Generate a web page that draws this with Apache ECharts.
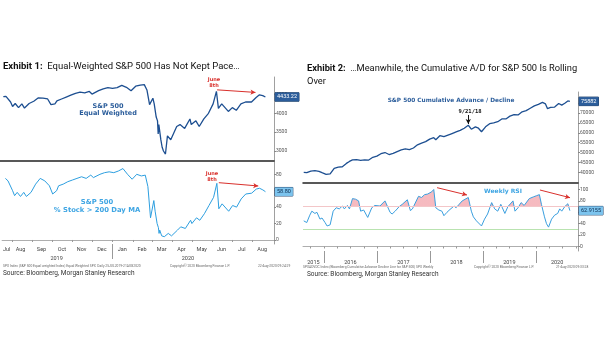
<!DOCTYPE html>
<html><head><meta charset="utf-8">
<script src="https://cdn.jsdelivr.net/npm/echarts@6/dist/echarts.min.js"></script>
<style>html,body{margin:0;padding:0;background:#fff}#c{width:605px;height:341px}</style>
</head><body><div id="c"></div>
<script>
// ---------- Exhibit 1 data (daily, sampled) ----------
const ewDates = ['2019-07-22','2019-07-26','2019-08-02','2019-08-05','2019-08-09','2019-08-14','2019-08-19','2019-08-23','2019-08-30','2019-09-06','2019-09-13','2019-09-20','2019-09-27','2019-10-02','2019-10-08','2019-10-11','2019-10-18','2019-10-25','2019-11-01','2019-11-08','2019-11-15','2019-11-22','2019-11-29','2019-12-03','2019-12-13','2019-12-20','2019-12-27','2020-01-03','2020-01-10','2020-01-17','2020-01-24','2020-01-31','2020-02-07','2020-02-14','2020-02-20','2020-02-24','2020-02-28','2020-03-04','2020-03-06','2020-03-09','2020-03-11','2020-03-12','2020-03-13','2020-03-16','2020-03-18','2020-03-20','2020-03-23','2020-03-26','2020-03-31','2020-04-03','2020-04-09','2020-04-14','2020-04-21','2020-04-29','2020-05-01','2020-05-08','2020-05-13','2020-05-20','2020-05-27','2020-06-03','2020-06-08','2020-06-11','2020-06-16','2020-06-26','2020-07-02','2020-07-08','2020-07-15','2020-07-22','2020-07-31','2020-08-07','2020-08-12','2020-08-17','2020-08-21'];
const ewIndex = [4440,4450,4300,4180,4260,4150,4250,4140,4260,4320,4410,4400,4380,4230,4250,4330,4380,4430,4480,4530,4560,4540,4580,4510,4600,4650,4680,4660,4680,4740,4690,4600,4720,4750,4760,4620,4230,4400,4250,3900,3800,3450,3700,3300,3100,3000,2920,3400,3300,3250,3650,3700,3600,3850,3700,3800,3650,3850,4000,4250,4580,4130,4250,4050,4150,4080,4250,4300,4300,4420,4490,4470,4433.22];
const pctAbove200 = [75,72,60,54,58,53,58,53,58,68,75,72,66,56,60,66,68,71,73,75,77,75,79,76,80,82,83,82,84,87,80,74,80,78,79,65,27,48,35,20,15,8,12,5,3,4,2,8,5,6,12,16,14,24,20,27,24,32,42,52,69,38,44,35,42,40,50,56,57,62,63,61,58.80];
const ewTicks = [3000,3500,4000,4500];
const pctTicks = [0,20,40,60,80];
const monthTickDates = ['2019-08-01','2019-09-01','2019-10-01','2019-11-01','2019-12-01','2020-01-01','2020-02-01','2020-03-01','2020-04-01','2020-05-01','2020-06-01','2020-07-01','2020-08-01'];
const monthLabelDates = ['2019-07-24','2019-08-14','2019-09-15','2019-10-16','2019-11-15','2019-12-16','2020-01-16','2020-02-15','2020-03-16','2020-04-15','2020-05-16','2020-06-15','2020-07-16','2020-08-16'];
const yearLabelDates1 = ['2019-10-08','2020-04-25'];

// ---------- Exhibit 2 data (weekly, sampled) ----------
const adDates = ['2015-08-14','2015-09-04','2015-10-02','2015-10-30','2015-11-27','2015-12-18','2016-01-15','2016-02-12','2016-03-11','2016-04-08','2016-05-06','2016-06-03','2016-06-24','2016-07-15','2016-08-12','2016-09-09','2016-10-07','2016-11-04','2016-12-02','2016-12-30','2017-01-27','2017-02-24','2017-03-24','2017-04-21','2017-05-19','2017-06-16','2017-07-14','2017-08-11','2017-09-08','2017-10-06','2017-11-03','2017-12-01','2017-12-29','2018-01-26','2018-02-09','2018-03-09','2018-04-06','2018-05-04','2018-06-01','2018-06-29','2018-07-27','2018-08-24','2018-09-21','2018-10-12','2018-11-09','2018-11-30','2018-12-21','2019-01-18','2019-02-15','2019-03-15','2019-04-12','2019-05-10','2019-06-07','2019-07-05','2019-08-02','2019-08-30','2019-09-27','2019-10-25','2019-11-22','2019-12-20','2020-01-17','2020-02-14','2020-03-06','2020-03-20','2020-04-10','2020-05-08','2020-06-05','2020-06-26','2020-07-17','2020-08-07','2020-08-21'];
const adValues = [40000,39800,40600,40800,40500,39800,39000,39200,42000,42600,42800,44500,45500,46300,46400,46000,46300,46200,47600,48200,49400,50000,49000,49600,50500,51300,51800,51500,52300,53900,54800,55500,56800,57500,56500,58500,58000,58800,59600,60400,61200,62300,63800,61800,63000,62300,60500,63000,64600,65000,65600,67000,67000,68400,69200,69000,70600,71200,72400,73600,74400,75400,74600,72200,72800,73000,74800,74000,74900,76100,75882];
const rsiDates = ['2015-08-14','2015-09-04','2015-09-25','2015-10-09','2015-10-30','2015-11-13','2015-12-04','2015-12-18','2016-01-08','2016-01-22','2016-02-12','2016-03-04','2016-03-25','2016-04-15','2016-05-06','2016-05-20','2016-06-10','2016-06-24','2016-07-15','2016-08-05','2016-08-26','2016-09-09','2016-09-30','2016-10-28','2016-11-25','2016-12-16','2017-01-20','2017-02-24','2017-03-03','2017-03-31','2017-04-14','2017-05-05','2017-06-02','2017-06-23','2017-07-28','2017-08-18','2017-09-01','2017-10-13','2017-11-03','2017-11-24','2017-12-15','2018-01-12','2018-01-26','2018-02-09','2018-03-02','2018-03-23','2018-04-06','2018-04-27','2018-05-18','2018-06-15','2018-06-29','2018-07-20','2018-08-10','2018-09-21','2018-10-12','2018-10-26','2018-11-16','2018-12-21','2019-01-11','2019-02-01','2019-03-01','2019-03-22','2019-04-12','2019-05-03','2019-05-31','2019-06-21','2019-07-26','2019-08-09','2019-08-30','2019-09-20','2019-10-11','2019-11-15','2019-12-13','2020-01-03','2020-01-24','2020-02-07','2020-02-28','2020-03-13','2020-03-27','2020-04-17','2020-05-08','2020-05-29','2020-06-12','2020-06-26','2020-07-17','2020-08-07','2020-08-21'];
const rsiValues = [45,42,55,62,58,60,48,50,42,36,38,62,68,66,71,66,72,66,84,83,80,62,64,51,68,72,71,80,82,60,57,62,70,74,82,63,66,88,86,91,92,96,100,68,64,62,54,60,65,71,68,74,80,86,62,52,45,36,48,57,77,66,62,74,58,70,80,62,68,77,72,84,87,89,91,74,52,40,34,48,55,58,66,62,70,75,62.9155];
const adTicks = [40000,45000,50000,55000,60000,65000,70000,75000];
const rsiTicks = [0,20,40,60,80,100];
const rsiBands = [70, 30];
const quarterTickDates = ['2015-10-01','2016-01-01','2016-04-01','2016-07-01','2016-10-01','2017-01-01','2017-04-01','2017-07-01','2017-10-01','2018-01-01','2018-04-01','2018-07-01','2018-10-01','2019-01-01','2019-04-01','2019-07-01','2019-10-01','2020-01-01','2020-04-01','2020-07-01','2020-10-01'];
const yearSepDates = ['2016-01-01','2017-01-01','2018-01-01','2019-01-01','2020-01-01'];
const yearLabelDates2 = ['2015-10-20','2016-07-01','2017-07-01','2018-07-01','2019-07-01','2020-05-25'];

function t(s){const p=s.split('-').map(Number);return new Date(p[0],p[1]-1,p[2]).getTime();}
const MONTHS=['Jan','Feb','Mar','Apr','May','Jun','Jul','Aug','Sep','Oct','Nov','Dec'];
const pairs=(d,v)=>d.map((x,i)=>[t(x),v[i]]);

const FONT='Roboto';
const axisTxt={fontSize:5,color:'#555',fontFamily:FONT};

function yAx(grid,min,max,ticks){
  return {type:'value',gridIndex:grid,position:'right',min,max,
    axisLine:{show:true,lineStyle:{color:'#888',width:0.8}},
    axisTick:{show:true,length:2,customValues:ticks,lineStyle:{color:'#888'}},
    axisLabel:Object.assign({customValues:ticks,margin:2,formatter:v=>String(v)},axisTxt),
    splitLine:{show:false}};
}
function xAx(grid,min,max,extra){
  return Object.assign({type:'value',gridIndex:grid,position:'bottom',min,max,axisLine:{show:false},axisTick:{show:false},axisLabel:{show:false},splitLine:{show:false}},extra);
}
function valueBox(v,text,bg,fg){
  return {symbol:'none',silent:true,data:[{yAxis:v}],lineStyle:{color:'rgba(0,0,0,0)',width:0},
    label:{show:true,position:'end',distance:1,formatter:text,backgroundColor:bg,color:fg,fontSize:5.5,fontFamily:FONT,padding:[1.5,2,1,2],borderColor:'#1b3d66',borderWidth:0.5}};
}
function arrowSeg(p1,p2){return [{coord:[t(p1[0]),p1[1]]},{coord:[t(p2[0]),p2[1]]}];}
function arrow(segs,color){
  return {symbol:['none','arrow'],symbolSize:[4,5],silent:true,lineStyle:{color,width:1,type:'solid'},label:{show:false},data:segs};
}

const L1min=t('2019-07-17'), L1max=t('2020-09-03');
const R1min=t('2015-08-09'), R1max=t('2020-10-16');
const yearFmt=v=>String(new Date(v).getFullYear());

const chart=echarts.init(document.getElementById('c'),null,{renderer:'canvas'});
const option={
  animation:false,
  backgroundColor:'#fff',
  grid:[
    {left:0,top:77,width:274,height:84},
    {left:0,top:161,width:274,height:83},
    {left:303,top:92,width:275,height:91},
    {left:303,top:183,width:275,height:68}
  ],
  xAxis:[
    xAx(0,L1min,L1max,{axisLine:{show:true,lineStyle:{color:'#222',width:1.5}}}),
    xAx(1,L1min,L1max,{axisLine:{show:true,lineStyle:{color:'#999',width:0.8}},
      axisTick:{show:true,length:2,customValues:monthTickDates.map(t),lineStyle:{color:'#999'}},
      axisLabel:Object.assign({show:true,customValues:monthLabelDates.map(t),margin:3,formatter:v=>MONTHS[new Date(v).getMonth()]},axisTxt,{fontSize:5.5,color:'#444'})}),
    xAx(1,L1min,L1max,{
      axisTick:{show:true,length:15,customValues:[t('2020-01-01')],lineStyle:{color:'#999'}},
      axisLabel:Object.assign({show:true,customValues:yearLabelDates1.map(t),margin:11.5,formatter:yearFmt},axisTxt,{fontSize:5.5,color:'#444'})}),
    xAx(2,R1min,R1max,{axisLine:{show:true,lineStyle:{color:'#222',width:1.5}}}),
    xAx(3,R1min,R1max,{axisLine:{show:true,lineStyle:{color:'#999',width:0.8}},
      axisTick:{show:true,length:2,customValues:quarterTickDates.map(t),lineStyle:{color:'#999'}}}),
    xAx(3,R1min,R1max,{
      axisTick:{show:true,length:12,customValues:yearSepDates.map(t),lineStyle:{color:'#999'}},
      axisLabel:Object.assign({show:true,customValues:yearLabelDates2.map(t),margin:9,formatter:yearFmt},axisTxt,{fontSize:5.5,color:'#444'})})
  ],
  yAxis:[
    yAx(0,2735,4963,ewTicks),
    yAx(1,-4.9,96.2,pctTicks),
    yAx(2,34588,80617,adTicks),
    yAx(3,-7.9,111.4,rsiTicks)
  ],
  series:[
    {type:'line',xAxisIndex:0,yAxisIndex:0,data:pairs(ewDates,ewIndex),showSymbol:false,
      lineStyle:{color:'#1d4f91',width:1.3},itemStyle:{color:'#1d4f91'},
      markLine:valueBox(4433.22,'4433.22','#2b5d9b','#fff')},
    {type:'line',xAxisIndex:1,yAxisIndex:1,data:pairs(ewDates,pctAbove200),showSymbol:false,
      lineStyle:{color:'#2d9fe0',width:1},itemStyle:{color:'#2d9fe0'},
      markLine:valueBox(58.80,'58.80','#7cc4ee','#0d2c4f')},
    {type:'line',xAxisIndex:3,yAxisIndex:2,data:pairs(adDates,adValues),showSymbol:false,
      lineStyle:{color:'#1d4f91',width:1.3},itemStyle:{color:'#1d4f91'},
      markLine:valueBox(75882,'75882','#2b5d9b','#fff')},
    {type:'line',xAxisIndex:4,yAxisIndex:3,data:pairs(rsiDates,rsiValues),showSymbol:false,z:4,
      lineStyle:{color:'#3a9fdf',width:1},itemStyle:{color:'#3a9fdf'},
      markLine:valueBox(62.9155,'62.9155','#7cc4ee','#0d2c4f')},
    {type:'line',id:'rsiFill',xAxisIndex:4,yAxisIndex:3,data:pairs(rsiDates,rsiValues),showSymbol:false,z:2,
      lineStyle:{width:0,color:'rgba(0,0,0,0)'},itemStyle:{color:'rgba(0,0,0,0)'},areaStyle:{origin:rsiBands[0],color:'#f4aeb5',opacity:0.85},
      markLine:{symbol:'none',silent:true,label:{show:false},
        data:[{yAxis:rsiBands[0],lineStyle:{color:'#f3c6c8',width:1.2,type:'solid'}},{yAxis:rsiBands[1],lineStyle:{color:'#b9e3b0',width:1.2,type:'solid'}}]}},
    {type:'line',xAxisIndex:0,yAxisIndex:0,data:[],markLine:arrow([arrowSeg(['2020-06-09',4622],['2020-08-06',4554])],'#d9302c')},
    {type:'line',xAxisIndex:1,yAxisIndex:1,data:[],markLine:arrow([arrowSeg(['2020-06-11',69.8],['2020-08-10',65.8])],'#d9302c')},
    {type:'line',xAxisIndex:3,yAxisIndex:2,data:[],markLine:arrow([arrowSeg(['2018-09-21',68983],['2018-09-21',64431])],'#111')},
    {type:'line',xAxisIndex:4,yAxisIndex:3,data:[],markLine:arrow([arrowSeg(['2018-02-18',103.2],['2018-09-12',90.4]),arrowSeg(['2020-01-28',99.1],['2020-08-22',85.6])],'#d9302c')}
  ],
  graphic:[
    {type:'text',left:3,top:62,style:{text:'{b|Exhibit 1:}  Equal-Weighted S&P 500 Has Not Kept Pace…',font:'9.5px Roboto',fill:'#111',rich:{b:{fontWeight:'bold',fontSize:9.5,fontFamily:'Roboto',fill:'#111'}}}},
    {type:'text',left:307,top:62,style:{text:'{b|Exhibit 2:}  …Meanwhile, the Cumulative A/D for S&P 500 Is Rolling\nOver',font:'9.3px Roboto',lineHeight:13,fill:'#111',rich:{b:{fontWeight:'bold',fontSize:9.3,fontFamily:'Roboto',fill:'#111'}}}},
    {type:'text',x:108,y:110,style:{text:'S&P 500\nEqual Weighted',font:'bold 6.5px "DejaVu Sans"',lineHeight:7.5,fill:'#2b5d9b',align:'center',verticalAlign:'middle'}},
    {type:'text',x:97,y:206,style:{text:'S&P 500\n% Stock > 200 Day MA',font:'bold 6.8px "DejaVu Sans"',lineHeight:7.5,fill:'#3ea5e3',align:'center',verticalAlign:'middle'}},
    {type:'text',x:214,y:83,style:{text:'June\n8th',font:'bold 5px "DejaVu Sans"',lineHeight:6,fill:'#d9302c',align:'center',verticalAlign:'middle'}},
    {type:'text',x:212,y:177,style:{text:'June\n8th',font:'bold 5px "DejaVu Sans"',lineHeight:6,fill:'#d9302c',align:'center',verticalAlign:'middle'}},
    {type:'text',x:451,y:100,style:{text:'S&P 500 Cumulative Advance / Decline',font:'bold 5.8px "DejaVu Sans"',fill:'#2b5d9b',align:'center',verticalAlign:'middle'}},
    {type:'text',x:470,y:112,style:{text:'9/21/18',font:'bold 5.5px "DejaVu Sans Mono"',fill:'#111',align:'center',verticalAlign:'middle'}},
    {type:'text',x:503,y:191,style:{text:'Weekly RSI',font:'bold 6px "DejaVu Sans"',fill:'#3ea5e3',align:'center',verticalAlign:'middle'}},
    {type:'text',left:3,top:265,style:{text:'SPX Index (S&P 500 Equal weighted Index) Equal Weighted SPX  Daily 25JUL2019-21AUG2020',font:'3.3px Roboto',fill:'#666'}},
    {type:'text',left:170,top:265,style:{text:'Copyright© 2020 Bloomberg Finance L.P.',font:'3.3px Roboto',fill:'#666'}},
    {type:'text',left:258,top:265,style:{text:'22-Aug-2020 09:24:29',font:'3.3px Roboto',fill:'#666'}},
    {type:'text',left:3,top:270,style:{text:'Source: Bloomberg, Morgan Stanley Research',font:'6.5px Roboto',fill:'#333'}},
    {type:'text',left:303,top:265.5,style:{text:'SPXADVDC Index (Bloomberg Cumulative Advance Decline Line for S&P 500) SPX Weekly',font:'3.3px Roboto',fill:'#666'}},
    {type:'text',left:474,top:265.5,style:{text:'Copyright© 2020 Bloomberg Finance L.P.',font:'3.3px Roboto',fill:'#666'}},
    {type:'text',left:556,top:265.5,style:{text:'21-Aug-2020 09:33:28',font:'3.3px Roboto',fill:'#666'}},
    {type:'text',left:307,top:271,style:{text:'Source: Bloomberg, Morgan Stanley Research',font:'6.5px Roboto',fill:'#333'}}
  ]
};
chart.setOption(option);
// pink fill only above the upper RSI band: gradient split exactly at the band's pixel row
const bandY = chart.convertToPixel({yAxisIndex:3}, rsiBands[0]);
chart.setOption({series:[{id:'rsiFill',areaStyle:{origin:rsiBands[0],opacity:0.85,color:{type:'linear',global:true,x:0,y:bandY-0.5,x2:0,y2:bandY+0.5,
  colorStops:[{offset:0,color:'#f4aeb5'},{offset:1,color:'rgba(244,174,181,0)'}]}}}]});
</script></body></html>
